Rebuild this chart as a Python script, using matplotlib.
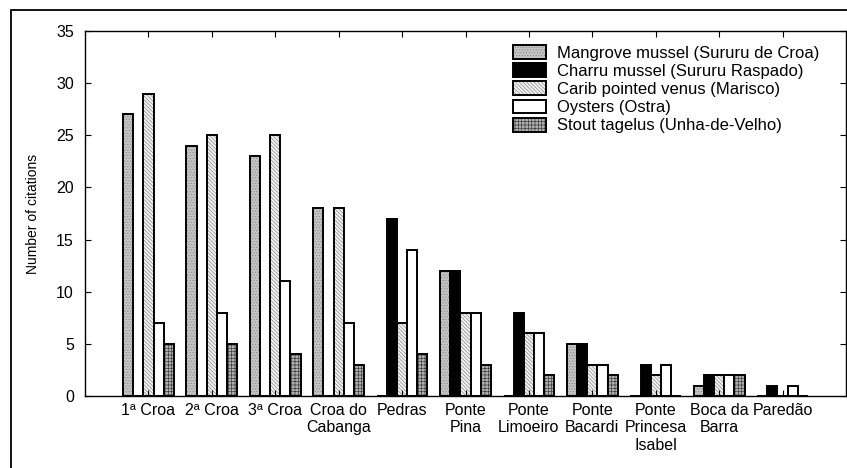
import numpy as np
import matplotlib
matplotlib.use("Agg")
import matplotlib.pyplot as plt
from matplotlib.patches import Patch, Rectangle
from matplotlib.legend_handler import HandlerTuple

plt.rcParams['font.family'] = ['Liberation Sans', 'DejaVu Sans']
plt.rcParams['hatch.linewidth'] = 0.5

# Data
sites = ["1ª Croa", "2ª Croa", "3ª Croa", "Croa do\nCabanga", "Pedras",
         "Ponte\nPina", "Ponte\nLimoeiro", "Ponte\nBacardi",
         "Ponte\nPrincesa\nIsabel", "Boca da\nBarra", "Paredão"]
species = ["Mangrove mussel (Sururu de Croa)", "Charru mussel (Sururu Raspado)",
           "Carib pointed venus (Marisco)", "Oysters (Ostra)",
           "Stout tagelus (Unha-de-Velho)"]
mangrove = [27, 24, 23, 18, 0, 12, 0, 5, 0, 1, 0]
charru = [0, 0, 0, 0, 17, 12, 8, 5, 3, 2, 1]
venus = [29, 25, 25, 18, 7, 8, 6, 3, 2, 2, 0]
oysters = [7, 8, 11, 7, 14, 8, 6, 3, 3, 2, 1]
stout = [5, 5, 4, 3, 4, 3, 2, 2, 0, 2, 0]

series = [mangrove, charru, venus, oysters, stout]
# (facecolor, hatch, hatch colour)
styles = [("#c4c4c4", "......", "#8a8a8a"),
          ("black", None, "black"),
          ("#f2f2f2", "\\" * 9, "#8a8a8a"),
          ("white", None, "black"),
          ("#b0b0b0", "+++++", "#404040")]

fig = plt.figure(figsize=(8.47, 4.68), dpi=100)
ax = fig.add_axes([0.1004, 0.1538, 0.8984, 0.78])

x = np.arange(len(sites))
w = 0.16
handles = []
for i, (vals, (fc, hatch, hc)) in enumerate(zip(series, styles)):
    pos = x + (i - 2) * w
    ax.bar(pos, vals, w, color=fc, hatch=hatch, edgecolor=hc, linewidth=0)
    ax.bar(pos, vals, w, fill=False, edgecolor="black", linewidth=1.4)
    handles.append((Patch(facecolor=fc, hatch=hatch, edgecolor=hc, linewidth=0),
                    Patch(fill=False, edgecolor="black", linewidth=1.4)))

ax.set_xlim(-1, 11)
ax.set_ylim(0, 35)
ax.set_yticks(range(0, 36, 5))
ax.set_xticks(x)
ax.set_xticklabels(sites, fontsize=11.5, linespacing=1.2)
ax.tick_params(axis='y', labelsize=11.5, direction='in', right=True, length=4, pad=8)
ax.tick_params(axis='x', direction='in', top=True, length=4, pad=5)
for s in ax.spines.values():
    s.set_linewidth(1.0)
ax.set_ylabel("Number of citations", fontsize=10, labelpad=12)

ax.legend(handles, species, handler_map={tuple: HandlerTuple(ndivide=1, pad=0)},
          loc='upper left', bbox_to_anchor=(513 / 847, 1 - 45 / 468),
          bbox_transform=fig.transFigure, frameon=False, fontsize=12,
          handlelength=2.0, handleheight=0.9, handletextpad=0.65,
          labelspacing=0.15, borderpad=0, borderaxespad=0)

# outer frame of the figure
fig.patches.append(Rectangle((11 / 847, -0.1), 1.2, 1.1 - 10 / 468,
                             transform=fig.transFigure, fill=False,
                             edgecolor="black", linewidth=1.3))

fig.savefig("out.png", dpi=100)
